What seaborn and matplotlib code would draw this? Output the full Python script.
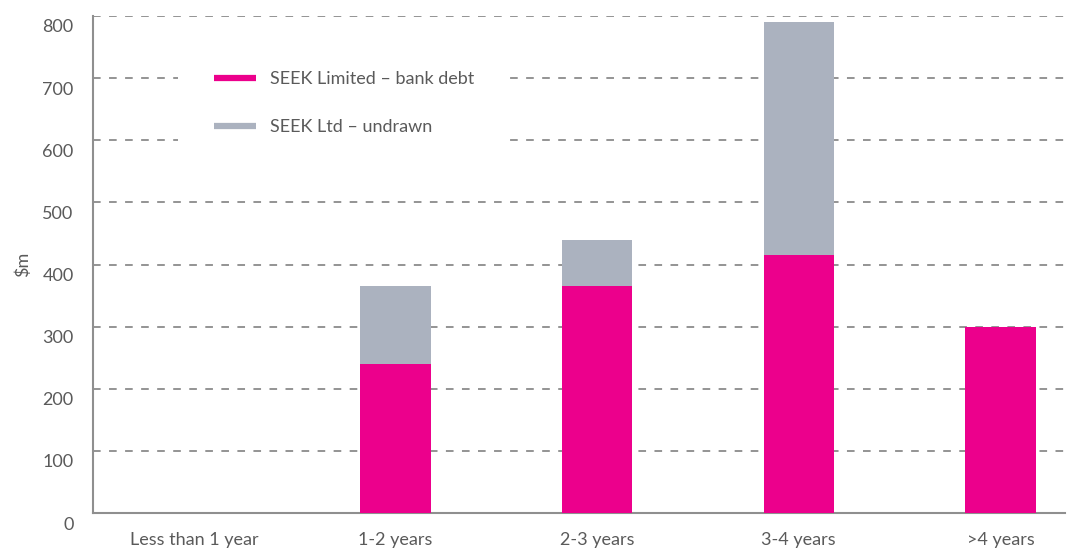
import matplotlib
matplotlib.use("Agg")
import matplotlib.pyplot as plt
import matplotlib.transforms as mtransforms
from matplotlib.lines import Line2D
import seaborn as sns
import pandas as pd

# ── Data ─────────────────────────────────────────────────────────────────────
categories = ["Less than 1 year", "1-2 years", "2-3 years", "3-4 years", ">4 years"]
bank_debt  = [0, 240, 365, 415, 300]
undrawn    = [0, 125, 75, 375, 0]

PINK = "#EC008C"
GREY = "#ABB2BF"
TXT  = "#5a5a5a"
LINE = "#777777"

sns.set_theme(style="white")
plt.rcParams["font.family"] = ["Lato", "DejaVu Sans"]

df = pd.DataFrame({"cat": categories, "debt": bank_debt,
                   "total": [d + u for d, u in zip(bank_debt, undrawn)]})

fig = plt.figure(figsize=(10.78, 5.48), dpi=100)
ax = fig.add_axes([93 / 1078, 35 / 548, (1065 - 93) / 1078, (513 - 16) / 548])

# stacked look: grey total first, pink bank debt drawn over it
sns.barplot(data=df, x="cat", y="total", color=GREY, width=0.35,
            saturation=1, linewidth=0, ax=ax, zorder=3)
sns.barplot(data=df, x="cat", y="debt", color=PINK, width=0.35,
            saturation=1, linewidth=0, ax=ax, zorder=3)

ax.set_ylim(0, 800)
ax.set_xlim(-0.5, 4.32)
ax.set_yticks(range(0, 801, 100))
ax.yaxis.grid(True, color=LINE, linestyle=(0, (5, 5.5)), linewidth=1.1, zorder=0)
ax.xaxis.grid(False)

for s in ["top", "right"]:
    ax.spines[s].set_visible(False)
for s in ["left", "bottom"]:
    ax.spines[s].set_color("#8f8f8f")
    ax.spines[s].set_linewidth(1.5)

ax.tick_params(axis="y", length=8, color=LINE, width=1.1, labelsize=13,
               labelcolor=TXT, pad=6)
ax.tick_params(axis="x", length=0, labelsize=13, labelcolor=TXT, pad=14)
ax.set_xlabel("")
ax.set_ylabel("$m", color=TXT, fontsize=13, labelpad=8)

# y tick labels sit a little below their gridline in the reference
shift = mtransforms.ScaledTranslation(0, -10 / 100, fig.dpi_scale_trans)
for lab in ax.get_yticklabels():
    lab.set_transform(lab.get_transform() + shift)

handles = [Line2D([0], [0], color=PINK, lw=4.5, solid_capstyle="butt"),
           Line2D([0], [0], color=GREY, lw=4.5, solid_capstyle="butt")]
leg = ax.legend(handles, ["SEEK Limited – bank debt", "SEEK Ltd – undrawn"],
                loc="upper left", bbox_to_anchor=(0.0875, 0.962), borderaxespad=0,
                frameon=True, facecolor="white", edgecolor="none", framealpha=1,
                fontsize=13, labelcolor=TXT, handlelength=2.3, handletextpad=0.8,
                labelspacing=1.8, borderpad=2.0, fancybox=False)
leg.set_zorder(5)

fig.savefig("out.png", dpi=100, facecolor="white")
